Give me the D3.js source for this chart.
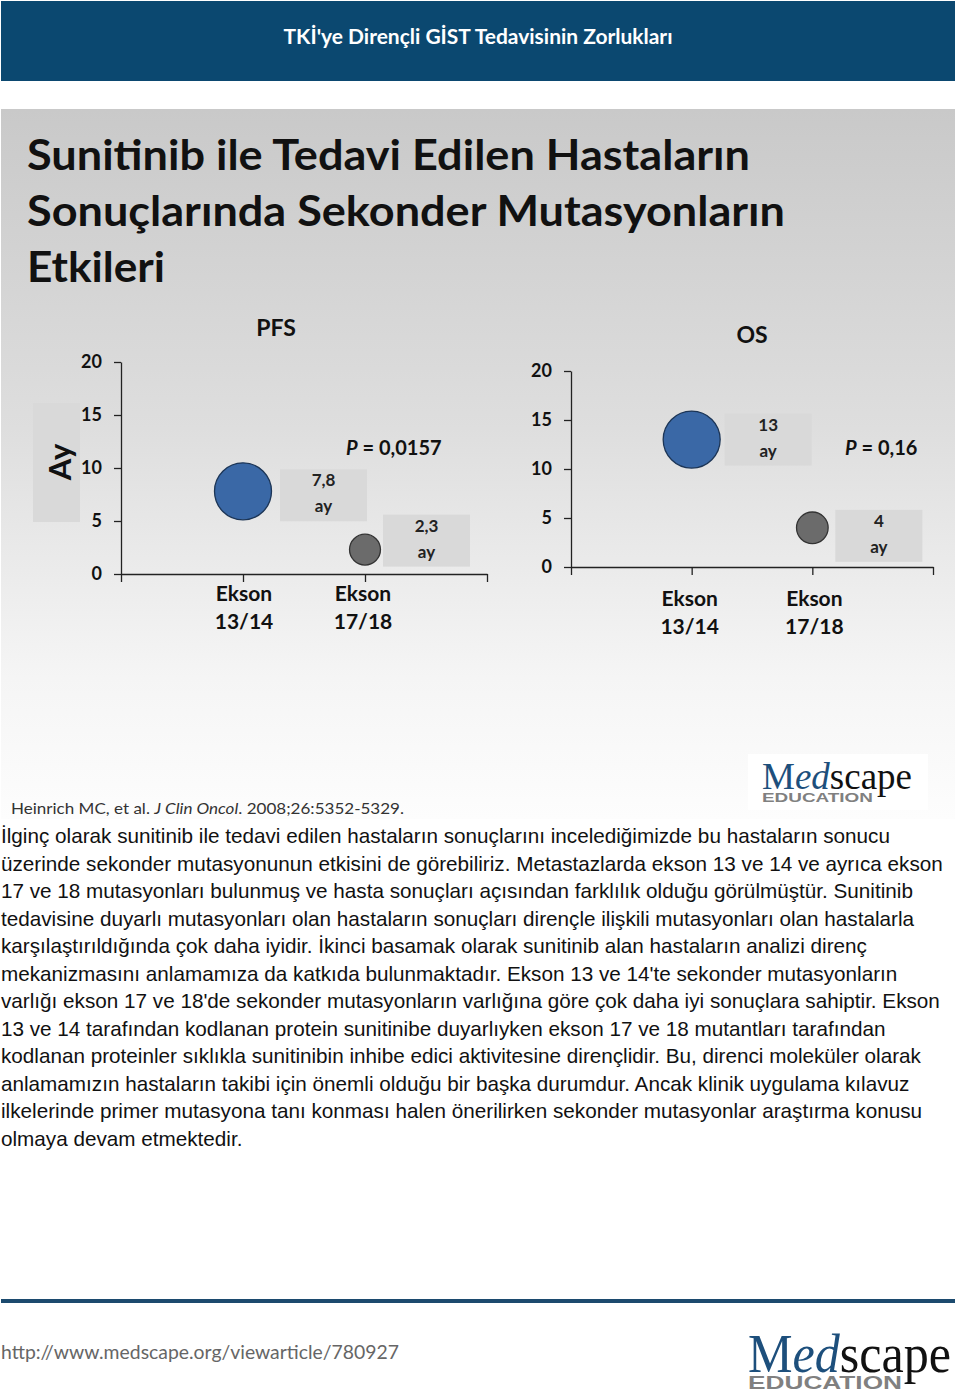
<!DOCTYPE html>
<html>
<head>
<meta charset="utf-8">
<script src="https://cdn.jsdelivr.net/npm/d3@7"></script>
<style>
  html, body { margin: 0; padding: 0; background: #ffffff; }
  svg { display: block; }
</style>
</head>
<body>
<div id="chart"></div>
<script>
// ---------------- DATA ----------------
const headerTitle = "TKİ'ye Dirençli GİST Tedavisinin Zorlukları";
const slideTitleLines = [
  "Sunitinib ile Tedavi Edilen Hastaların",
  "Sonuçlarında Sekonder Mutasyonların",
  "Etkileri"
];
const categories = ["Ekson 13/14", "Ekson 17/18"];
const pfsValues = [7.8, 2.3];
const osValues = [13, 4];
const pfsLabels = ["7,8", "2,3"];
const osLabels = ["13", "4"];
const unitLabel = "ay";
const yTicks = [0, 5, 10, 15, 20];
const pfsP = "0,0157";
const osP = "0,16";
const yAxisTitle = "Ay";
const citation = ["Heinrich MC, et al. ", "J Clin Oncol", ". 2008;26:5352-5329."];
const paragraphLines = [
  "İlginç olarak sunitinib ile tedavi edilen hastaların sonuçlarını incelediğimizde bu hastaların sonucu",
  "üzerinde sekonder mutasyonunun etkisini de görebiliriz. Metastazlarda ekson 13 ve 14 ve ayrıca ekson",
  "17 ve 18 mutasyonları bulunmuş ve hasta sonuçları açısından farklılık olduğu görülmüştür. Sunitinib",
  "tedavisine duyarlı mutasyonları olan hastaların sonuçları dirençle ilişkili mutasyonları olan hastalarla",
  "karşılaştırıldığında çok daha iyidir. İkinci basamak olarak sunitinib alan hastaların analizi direnç",
  "mekanizmasını anlamamıza da katkıda bulunmaktadır. Ekson 13 ve 14'te sekonder mutasyonların",
  "varlığı ekson 17 ve 18'de sekonder mutasyonların varlığına göre çok daha iyi sonuçlara sahiptir. Ekson",
  "13 ve 14 tarafından kodlanan protein sunitinibe duyarlıyken ekson 17 ve 18 mutantları tarafından",
  "kodlanan proteinler sıklıkla sunitinibin inhibe edici aktivitesine dirençlidir. Bu, direnci moleküler olarak",
  "anlamamızın hastaların takibi için önemli olduğu bir başka durumdur. Ancak klinik uygulama kılavuz",
  "ilkelerinde primer mutasyona tanı konması halen önerilirken sekonder mutasyonlar araştırma konusu",
  "olmaya devam etmektedir."
];
const footerUrl = "http://www.medscape.org/viewarticle/780927";

// ---------------- DRAW ----------------
const W = 960, H = 1392;
const svg = d3.select("#chart").append("svg").attr("width", W).attr("height", H);
const BOLD = "Lato, 'Open Sans', sans-serif";

const defs = svg.append("defs");
const grad = defs.append("linearGradient").attr("id", "slideBg").attr("x1", 0).attr("y1", 0).attr("x2", 0).attr("y2", 1);
grad.append("stop").attr("offset", "0%").attr("stop-color", "#c9c9c9");
grad.append("stop").attr("offset", "45%").attr("stop-color", "#dedede");
grad.append("stop").attr("offset", "80%").attr("stop-color", "#f5f5f5");
grad.append("stop").attr("offset", "100%").attr("stop-color", "#fdfdfd");

// header band
svg.append("rect").attr("x", 1).attr("y", 1).attr("width", 954).attr("height", 80).attr("fill", "#0b4870");
svg.append("text").attr("x", 478).attr("y", 44).attr("text-anchor", "middle")
  .attr("font-family", BOLD).attr("font-weight", 700).attr("font-size", 20.5)
  .attr("fill", "#ffffff").attr("textLength", 389).attr("lengthAdjust", "spacingAndGlyphs")
  .text(headerTitle);

// slide
svg.append("rect").attr("x", 1).attr("y", 109).attr("width", 954).attr("height", 710).attr("fill", "url(#slideBg)");

// slide title
const titleWidths = [723, 758, 138];
slideTitleLines.forEach((t, i) => {
  svg.append("text").attr("x", 27).attr("y", 170 + i * 56)
    .attr("font-family", BOLD).attr("font-weight", 700).attr("font-size", 42)
    .attr("fill", "#111").attr("textLength", titleWidths[i]).attr("lengthAdjust", "spacingAndGlyphs")
    .text(t);
});

// chart builder
function drawChart(cfg) {
  const g = svg.append("g");
  const x = d3.scaleLinear().domain([0, 3]).range([cfg.x0, cfg.x1]);
  const y = d3.scaleLinear().domain([0, 20]).range([cfg.y0, cfg.y1]);
  const r = d3.scaleSqrt().domain([0, d3.max(cfg.values)]).range([0, 28.5]);

  g.append("text").attr("x", cfg.titleX).attr("y", cfg.titleY).attr("text-anchor", "middle")
    .attr("font-family", BOLD).attr("font-weight", 700).attr("font-size", 23).attr("fill", "#111")
    .text(cfg.title);

  const ya = g.append("g").attr("transform", `translate(${cfg.x0},0)`)
    .call(d3.axisLeft(y).tickValues(yTicks).tickSize(7).tickPadding(12).tickSizeOuter(0));
  ya.select(".domain").attr("stroke", "#222").attr("stroke-width", 1.3);
  ya.selectAll(".tick line").attr("stroke", "#222").attr("stroke-width", 1.3);
  ya.selectAll(".tick text").attr("font-family", BOLD).attr("font-weight", 700)
    .attr("font-size", 18).attr("fill", "#111");

  const xa = g.append("g").attr("transform", `translate(0,${cfg.y0})`)
    .call(d3.axisBottom(x).tickValues([0, 1, 2, 3]).tickSize(8).tickFormat("").tickSizeOuter(0));
  xa.select(".domain").attr("stroke", "#222").attr("stroke-width", 1.3);
  xa.selectAll(".tick line").attr("stroke", "#222").attr("stroke-width", 1.3);

  categories.forEach((c, i) => {
    const parts = c.split(" ");
    const t = g.append("text").attr("text-anchor", "middle")
      .attr("font-family", BOLD).attr("font-weight", 700).attr("font-size", 21).attr("fill", "#111");
    t.append("tspan").attr("x", x(i + 1) + cfg.catDx[i]).attr("y", cfg.catY).text(parts[0]);
    t.append("tspan").attr("x", x(i + 1) + cfg.catDx[i]).attr("y", cfg.catY + 28).text(parts[1]);
  });

  const colors = ["#3a68a6", "#6b6b6b"];
  const strokes = ["#1c3556", "#333333"];
  g.selectAll("circle.bubble").data(cfg.values).join("circle").attr("class", "bubble")
    .attr("cx", (d, i) => x(i + 1)).attr("cy", d => y(d)).attr("r", d => r(d))
    .attr("fill", (d, i) => colors[i]).attr("stroke", (d, i) => strokes[i]).attr("stroke-width", 1.3);

  cfg.values.forEach((v, i) => {
    const bx = x(i + 1) + cfg.boxDx[i];
    const by = y(v) + cfg.boxDy[i];
    g.append("rect").attr("x", bx).attr("y", by).attr("width", 87).attr("height", 52).attr("fill", "#d9d9d9");
    g.append("text").attr("x", bx + 43.5).attr("y", by + 17).attr("text-anchor", "middle")
      .attr("font-family", BOLD).attr("font-weight", 700).attr("font-size", 17).attr("fill", "#222")
      .text(cfg.labels[i]);
    g.append("text").attr("x", bx + 43.5).attr("y", by + 43).attr("text-anchor", "middle")
      .attr("font-family", BOLD).attr("font-weight", 700).attr("font-size", 17).attr("fill", "#222")
      .text(unitLabel);
  });

  const p = g.append("text").attr("x", cfg.pX).attr("y", cfg.pY)
    .attr("font-family", BOLD).attr("font-weight", 700).attr("font-size", 20).attr("fill", "#111");
  p.append("tspan").attr("font-style", "italic").text("P");
  p.append("tspan").text(" = " + cfg.p);
  return { x, y };
}

drawChart({
  title: "PFS", titleX: 276, titleY: 336,
  x0: 121, x1: 487, y0: 574, y1: 362,
  values: pfsValues, labels: pfsLabels, p: pfsP, pX: 346, pY: 455,
  catY: 601, catDx: [1, -2],
  boxDx: [37, 18], boxDy: [-22, -35]
});
drawChart({
  title: "OS", titleX: 752, titleY: 343,
  x0: 571, x1: 933, y0: 567, y1: 371,
  values: osValues, labels: osLabels, p: osP, pX: 845, pY: 455,
  catY: 606, catDx: [-2, 2],
  boxDx: [33, 23], boxDy: [-26, -18]
});

// y axis title box
svg.append("rect").attr("x", 33).attr("y", 403).attr("width", 47).attr("height", 119).attr("fill", "#d9d9d9");
svg.append("text").attr("transform", "translate(71,462) rotate(-90)").attr("text-anchor", "middle")
  .attr("font-family", BOLD).attr("font-weight", 700).attr("font-size", 31).attr("fill", "#111")
  .text(yAxisTitle);

// medscape logo
function logo(x, y, w, size, eduSize, eduW, eduDy) {
  const t = svg.append("text").attr("x", x).attr("y", y)
    .attr("font-family", "'Liberation Serif', 'DejaVu Serif', serif").attr("font-size", size)
    .attr("textLength", w).attr("lengthAdjust", "spacingAndGlyphs");
  t.append("tspan").attr("fill", "#1d4f7c").text("M");
  t.append("tspan").attr("fill", "#1d4f7c").attr("font-style", "italic").text("ed");
  t.append("tspan").attr("fill", "#111").text("scape");
  svg.append("text").attr("x", x).attr("y", y + eduDy)
    .attr("font-family", "'Liberation Sans', Arial, sans-serif").attr("font-weight", 700)
    .attr("font-size", eduSize).attr("fill", "#808080")
    .attr("textLength", eduW).attr("lengthAdjust", "spacingAndGlyphs").text("EDUCATION");
}
svg.append("rect").attr("x", 748).attr("y", 754).attr("width", 180).attr("height", 56).attr("fill", "#ffffff");
logo(762, 789, 150, 38, 12.5, 111, 13);

// citation
const cit = svg.append("text").attr("x", 11).attr("y", 814)
  .attr("font-family", BOLD).attr("font-size", 16).attr("fill", "#333")
  .attr("textLength", 393).attr("lengthAdjust", "spacingAndGlyphs");
cit.append("tspan").text(citation[0]);
cit.append("tspan").attr("font-style", "italic").text(citation[1]);
cit.append("tspan").text(citation[2]);

// paragraph
paragraphLines.forEach((l, i) => {
  svg.append("text").attr("x", 1).attr("y", 843 + i * 27.5)
    .attr("font-family", "'Liberation Sans', Arial, sans-serif").attr("font-size", 20.7)
    .attr("fill", "#111").text(l);
});

// footer
svg.append("rect").attr("x", 1).attr("y", 1299).attr("width", 954).attr("height", 4).attr("fill", "#1c4a6e");
svg.append("text").attr("x", 1).attr("y", 1359)
  .attr("font-family", BOLD).attr("font-size", 19).attr("fill", "#666")
  .attr("textLength", 398).attr("lengthAdjust", "spacingAndGlyphs").text(footerUrl);
logo(748, 1372, 203, 54, 17.5, 154, 17);
</script>
</body>
</html>
